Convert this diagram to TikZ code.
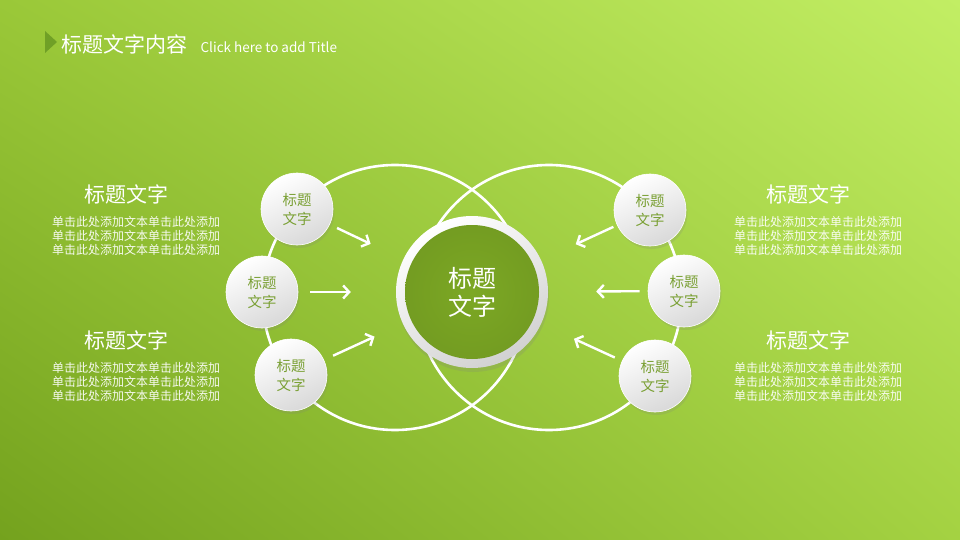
\documentclass[tikz,border=0pt]{standalone}
\usepackage{fontspec}
\setmainfont{Noto Sans CJK SC}
\usetikzlibrary{positioning, shadows, shadings, arrows.meta}
\definecolor{bgdark}{RGB}{116,162,30}
\definecolor{bglight}{RGB}{194,238,100}
\definecolor{bgtl}{RGB}{154,200,56}
\definecolor{bgbr}{RGB}{164,210,66}
\definecolor{leaf}{RGB}{124,168,36}
\definecolor{leaftext}{RGB}{122,160,52}
\definecolor{tri}{RGB}{112,160,38}

\begin{document}
\begin{tikzpicture}[
        x=1pt, y=-1pt,
        ring/.style={
                circle,
                draw=white,
                line width=2.6pt,
                minimum size=265pt,
                inner sep=0pt
            },
        bubble/.style={
                circle,
                minimum size=72pt,
                inner sep=0pt,
                top color=white,
                bottom color=black!15,
                shading angle=25,
                draw=white,
                line width=0.6pt,
                drop shadow={shadow xshift=1.5pt, shadow yshift=-3pt, opacity=0.18},
                font=\fontsize{14.5}{19}\selectfont,
                text=leaftext,
                align=center
            },
        heading/.style = {font=\fontsize{21}{25}\selectfont, text=white},
        body/.style = {font=\fontsize{12}{14}\selectfont, text=white, text opacity=0.92, align=center, inner sep=0pt},
        arrow/.style = {
                draw=white,
                line width=2.4pt,
                -{Straight Barb[length=6pt, width=13pt]},
                shorten <= 8pt,
                shorten >= 36pt
            }
    ]
    \useasboundingbox (0,0) rectangle (960,540);
    \fill[lower left=bgdark, upper right=bglight, upper left=bgtl, lower right=bgbr] (0,0) rectangle (960,540);

    \fill[tri] (45,31) -- (57,42) -- (45,53) -- cycle;
    \node[anchor=west, font=\fontsize{21}{25}\selectfont, text=white, inner sep=0pt] (title) at (61,44) {标题文字内容};
    \node[font=\fontsize{13.5}{16}\selectfont, text=white, inner sep=0pt] (subtitle) [base right=13pt of title] {Click here to add Title};

    \node[ring] (leftring) at (395,297.5) {};
    \node[ring] (rightring) at (549,297.5) {};

    \node[circle, minimum size=152pt, inner sep=0pt, top color=white, bottom color=black!18, shading angle=30,
        drop shadow={shadow xshift=1pt, shadow yshift=-4pt, opacity=0.2}] (cring) at (472,292) {};
    \node[circle, minimum size=134pt, inner sep=0pt, inner color=leaf, outer color=leaf!93!black, text=white, align=center,
        font=\fontsize{24}{28}\selectfont] (center) at (472,292) {标题\\文字};

    \node[bubble] (tl) at (297,209) {标题\\文字};
    \node[bubble] (ml) at (262,292) {标题\\文字};
    \node[bubble] (bl) at (291,375) {标题\\文字};
    \node[bubble] (tr) at (650,210) {标题\\文字};
    \node[bubble] (mr) at (684,291) {标题\\文字};
    \node[bubble] (br) at (655,376) {标题\\文字};

    \draw[arrow] (tl) -- (cring);
    \draw[arrow, shorten <= 12pt, shorten >= 45pt] (ml) -- (cring);
    \draw[arrow, shorten <= 10pt, shorten >= 31pt] (bl) -- (cring);
    \draw[arrow, shorten <= 4pt, shorten >= 38pt] (tr) -- (cring);
    \draw[arrow, shorten <= 8pt, shorten >= 48pt] (mr) -- (cring);
    \draw[arrow] (br) -- (cring);

    \node[heading] (lefttop) at (126,194) {标题文字};
    \node[body] (lefttop_text) [below=9pt of lefttop, xshift=10pt] {单击此处添加文本单击此处添加\\单击此处添加文本单击此处添加\\单击此处添加文本单击此处添加};
    \node[heading] (leftbottom) at (126,340) {标题文字};
    \node[body] (leftbottom_text) [below=9pt of leftbottom, xshift=10pt] {单击此处添加文本单击此处添加\\单击此处添加文本单击此处添加\\单击此处添加文本单击此处添加};
    \node[heading] (righttop) at (808,194) {标题文字};
    \node[body] (righttop_text) [below=9pt of righttop, xshift=10pt] {单击此处添加文本单击此处添加\\单击此处添加文本单击此处添加\\单击此处添加文本单击此处添加};
    \node[heading] (rightbottom) at (808,340) {标题文字};
    \node[body] (rightbottom_text) [below=9pt of rightbottom, xshift=10pt] {单击此处添加文本单击此处添加\\单击此处添加文本单击此处添加\\单击此处添加文本单击此处添加};
\end{tikzpicture}
\end{document}
